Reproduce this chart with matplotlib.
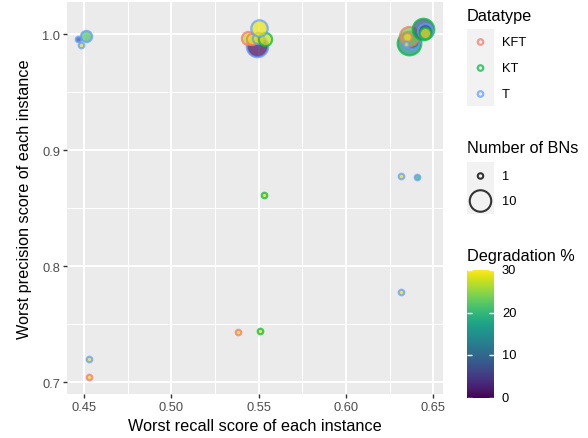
import numpy as np
import matplotlib
matplotlib.use("Agg")
import matplotlib.pyplot as plt
from matplotlib.colors import Normalize

plt.rcParams['font.family'] = ['Liberation Sans', 'DejaVu Sans']

# ---------------- data ----------------
recall = [0.4511, 0.4466, 0.4483,
          0.4529, 0.4529, 0.5381, 0.5509, 0.5530, 0.6313, 0.6404, 0.6313,
          0.5489, 0.5437, 0.5462, 0.5494, 0.5538, 0.5500,
          0.6359, 0.6378, 0.6359, 0.6349, 0.6346, 0.6439, 0.6452, 0.6454]
precision = [0.9983, 0.9957, 0.9905,
             0.7198, 0.7043, 0.7434, 0.7440, 0.8615, 0.8778, 0.8765, 0.7773,
             0.9894, 0.9966, 0.9957, 0.9966, 0.9957, 1.0052,
             0.9925, 0.9940, 0.9983, 0.9974, 0.9911, 1.0040, 1.0026, 1.0006]
datatype = ['T', 'T', 'T',
            'T', 'KFT', 'KFT', 'KT', 'KT', 'T', 'T', 'T',
            'T', 'KFT', 'KFT', 'T', 'KT', 'T',
            'KT', 'T', 'KFT', 'KFT', 'T', 'KT', 'T', 'KT']
n_bns = [3, 1, 1,
         1, 1, 1, 1, 1, 1, 1, 1,
         10, 4, 3, 3, 4, 6,
         12, 5, 8, 2, 1, 10, 5, 3]
degradation = [22, 8, 29,
               29, 29, 29, 29, 29, 29, 20, 29,
               1, 27, 29, 29, 28, 29,
               15, 12, 24, 29, 29, 8, 8, 29]

type_levels = ['KFT', 'KT', 'T']
type_colors = {'KFT': '#F8766D', 'KT': '#00BA38', 'T': '#619CFF'}
size_breaks = [1, 10]
deg_breaks = [0, 10, 20, 30]

# ---------------- helpers ----------------
W, H = 588, 439
DPI = 100
PX2PT = 72.0 / DPI


def marker_area(n):
    d_px = np.sqrt(np.maximum(-17.75 + 48.0 * np.asarray(n, dtype=float), 4.0))
    return (d_px * PX2PT) ** 2


fig = plt.figure(figsize=(W / DPI, H / DPI), dpi=DPI)

L, R, T, B = 67, 443, 3, 395
ax = fig.add_axes([L / W, 1 - B / H, (R - L) / W, (B - T) / H])
ax.set_facecolor('#EBEBEB')
for sp in ax.spines.values():
    sp.set_visible(False)

ax.set_xlim(0.4403, 0.6555)
ax.set_ylim(0.6897, 1.0276)
ax.set_xticks([0.45, 0.50, 0.55, 0.60, 0.65])
ax.set_xticklabels(['0.45', '0.50', '0.55', '0.60', '0.65'])
ax.set_yticks([0.7, 0.8, 0.9, 1.0])
ax.set_yticklabels(['0.7', '0.8', '0.9', '1.0'])
ax.set_xticks([0.475, 0.525, 0.575, 0.625], minor=True)
ax.set_yticks([0.75, 0.85, 0.95], minor=True)
ax.grid(which='major', color='white', linewidth=1.45)
ax.grid(which='minor', color='white', linewidth=0.75)
ax.set_axisbelow(True)
ax.tick_params(which='major', length=3, width=1.0, color='#333333',
               labelsize=9.3, labelcolor='#4D4D4D', pad=2)
ax.tick_params(which='minor', length=0)

ax.set_xlabel('Worst recall score of each instance', fontsize=11.7, labelpad=4)
ax.set_ylabel('Worst precision score of each instance', fontsize=11.7, labelpad=7)

norm = Normalize(vmin=0, vmax=30)
cmap = plt.get_cmap('viridis')

for x, y, t, n, d in zip(recall, precision, datatype, n_bns, degradation):
    ax.scatter([x], [y], s=marker_area([n]), c=[cmap(norm(d))],
               edgecolors=type_colors[t], linewidths=1.6, alpha=0.72, zorder=3)

# ---------------- legends (pixel overlay) ----------------
ov = fig.add_axes([0, 0, 1, 1], facecolor='none')
ov.set_xlim(0, W)
ov.set_ylim(H, 0)
ov.axis('off')

# Datatype legend
ov.text(467, 16, 'Datatype', fontsize=11.7, va='center', ha='left')
ov.add_patch(plt.Rectangle((467, 30), 27, 77, facecolor='#F2F2F2', edgecolor='none'))
for i, t in enumerate(type_levels):
    yk = 43 + i * 26
    ov.scatter([480.5], [yk], s=marker_area([1]), facecolors='none',
               edgecolors=type_colors[t], linewidths=1.6, alpha=0.72)
    ov.text(502, yk, t, fontsize=9.3, va='center', ha='left')

# Number of BNs legend
ov.text(467, 149, 'Number of BNs', fontsize=11.7, va='center', ha='left')
ov.add_patch(plt.Rectangle((467, 163), 27, 52, facecolor='#F2F2F2', edgecolor='none'))
for i, n in enumerate(size_breaks):
    yk = 177 + i * 25
    ov.scatter([480.5], [yk], s=marker_area([n]), facecolors='none',
               edgecolors='#333333', linewidths=1.5)
    ov.text(502, yk, str(n), fontsize=9.3, va='center', ha='left')

# Degradation colorbar
ov.text(467, 257, 'Degradation %', fontsize=11.7, va='center', ha='left')
cb_top, cb_bot = 271, 399
cax = fig.add_axes([467 / W, 1 - cb_bot / H, 27 / W, (cb_bot - cb_top) / H])
grad = np.linspace(0, 30, 256).reshape(-1, 1)
cax.imshow(grad, aspect='auto', cmap=cmap, norm=norm, origin='lower',
           extent=[0, 1, 0, 30])
cax.set_xlim(0, 1)
cax.set_ylim(0, 30)
cax.axis('off')
for v in deg_breaks:
    cax.plot([0, 0.2], [v, v], color='white', linewidth=1.0, solid_capstyle='butt')
    cax.plot([0.8, 1.0], [v, v], color='white', linewidth=1.0, solid_capstyle='butt')
    ypx = cb_bot - (cb_bot - cb_top) * v / 30.0
    ov.text(502, ypx, str(v), fontsize=9.3, va='center', ha='left')

fig.savefig('out.png', dpi=DPI)
